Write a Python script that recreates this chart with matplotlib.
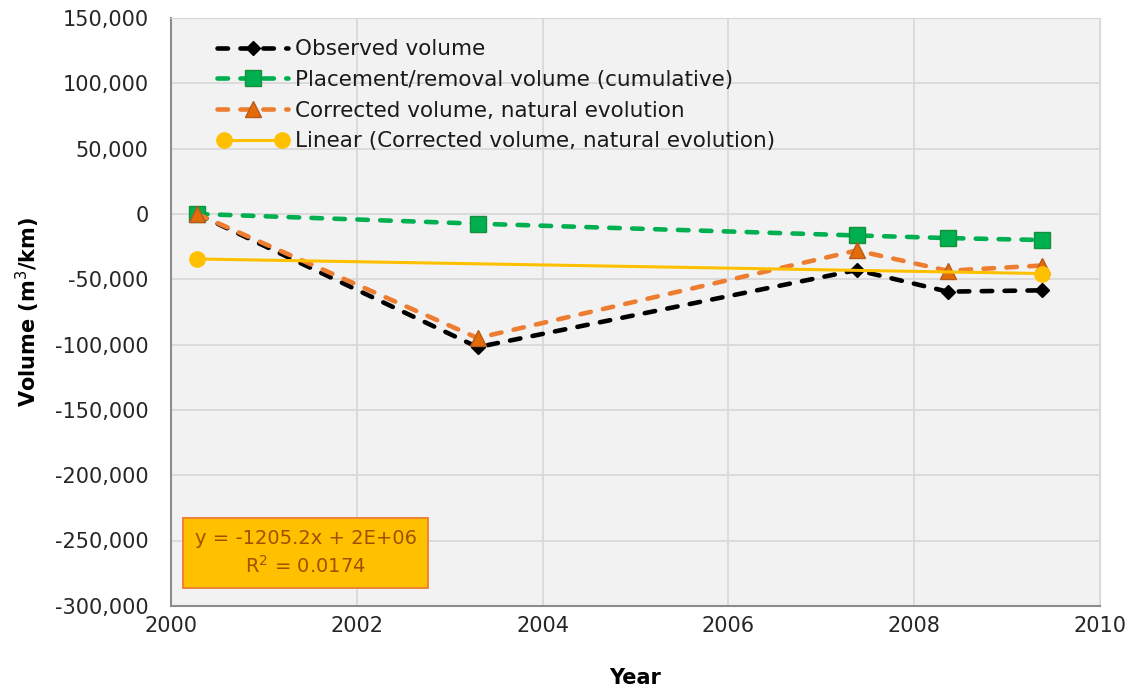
import numpy as np
import matplotlib.pyplot as plt
from matplotlib.legend_handler import HandlerLine2D

plt.rcParams['font.family'] = ['DejaVu Sans']

# survey dates (decimal years) and volumes in m3/km
years = [2000.28, 2003.30, 2007.38, 2008.36, 2009.38]
observed = [0, -102000, -43000, -59500, -58500]
placement = [0, -7500, -16500, -18500, -20000]
corrected = [0, -95000, -28000, -43500, -39500]

eq_text = 'y = -1205.2x + 2E+06\nR$^2$ = 0.0174'

# linear trend of the corrected series
coef = np.polyfit(years, corrected, 1)
trend_x = [years[0], years[-1]]
trend_y = np.polyval(coef, trend_x)

fig = plt.figure(figsize=(11.36, 6.90), dpi=100)
ax = fig.add_axes([0.1505, 0.122, 0.8178, 0.852])
ax.set_facecolor('#F2F2F2')

lw = 3.3
dash = (2.3, 2.7)
l1, = ax.plot(years, observed, color='black', lw=lw, dashes=dash,
              dash_capstyle='round', marker='D', ms=7, zorder=3,
              label='Observed volume')
l2, = ax.plot(years, placement, color='#00B050', lw=lw, dashes=dash,
              dash_capstyle='round', marker='s', ms=11, mfc='#00B050',
              mec='#168F3A', mew=1, zorder=3,
              label='Placement/removal volume (cumulative)')
l3, = ax.plot(years, corrected, color='#ED7D31', lw=lw, dashes=dash,
              dash_capstyle='round', marker='^', ms=12, mfc='#E36C0A',
              mec='#B85A1B', mew=1, zorder=4,
              label='Corrected volume, natural evolution')
l4, = ax.plot(trend_x, trend_y, color='#FFC000', lw=2.2, marker='o', ms=11,
              markevery=[0, -1], zorder=5,
              label='Linear (Corrected volume, natural evolution)')

ax.set_xlim(2000, 2010)
ax.set_ylim(-300000, 150000)
ax.set_xticks(np.arange(2000, 2011, 2))
ax.set_yticks(np.arange(-300000, 150001, 50000))
ax.yaxis.set_major_formatter(plt.FuncFormatter(lambda v, p: f'{int(v):,}'))
ax.grid(True, color='#D9D9D9', lw=1.3)
ax.set_axisbelow(True)
ax.tick_params(length=0, labelsize=15, colors='#262626')
ax.tick_params(axis='y', pad=16)
ax.tick_params(axis='x', pad=7)

for s in ['top', 'right']:
    ax.spines[s].set_color('#D9D9D9')
for s in ['left', 'bottom']:
    ax.spines[s].set_color('#8C8C8C')
    ax.spines[s].set_linewidth(1.5)

ax.set_xlabel('Year', fontsize=15, fontweight='bold')
ax.set_ylabel('Volume (m$^3$/km)', fontsize=15, fontweight='bold')
ax.xaxis.set_label_coords(0.5, -0.122)
ax.xaxis.label.set_va('center')
ax.yaxis.set_label_coords(-0.154, 0.5)
ax.yaxis.label.set_va('center')

leg = ax.legend(handles=[l1, l2, l3, l4], loc='upper left',
                bbox_to_anchor=(0.029, 0.997), frameon=False, fontsize=15.5,
                handlelength=3.3, handletextpad=0.3, labelspacing=0.5,
                numpoints=1,
                handler_map={l4: HandlerLine2D(numpoints=2)})
for t in leg.get_texts():
    t.set_color('#1a1a1a')

ax.text(0.145, 0.090, eq_text, transform=ax.transAxes, ha='center', va='center',
        fontsize=14, color='#9C5200', linespacing=1.35,
        bbox=dict(boxstyle='square,pad=0.6', fc='#FFC000', ec='#ED7D31', lw=1.3))

fig.savefig('out.png', dpi=100)
